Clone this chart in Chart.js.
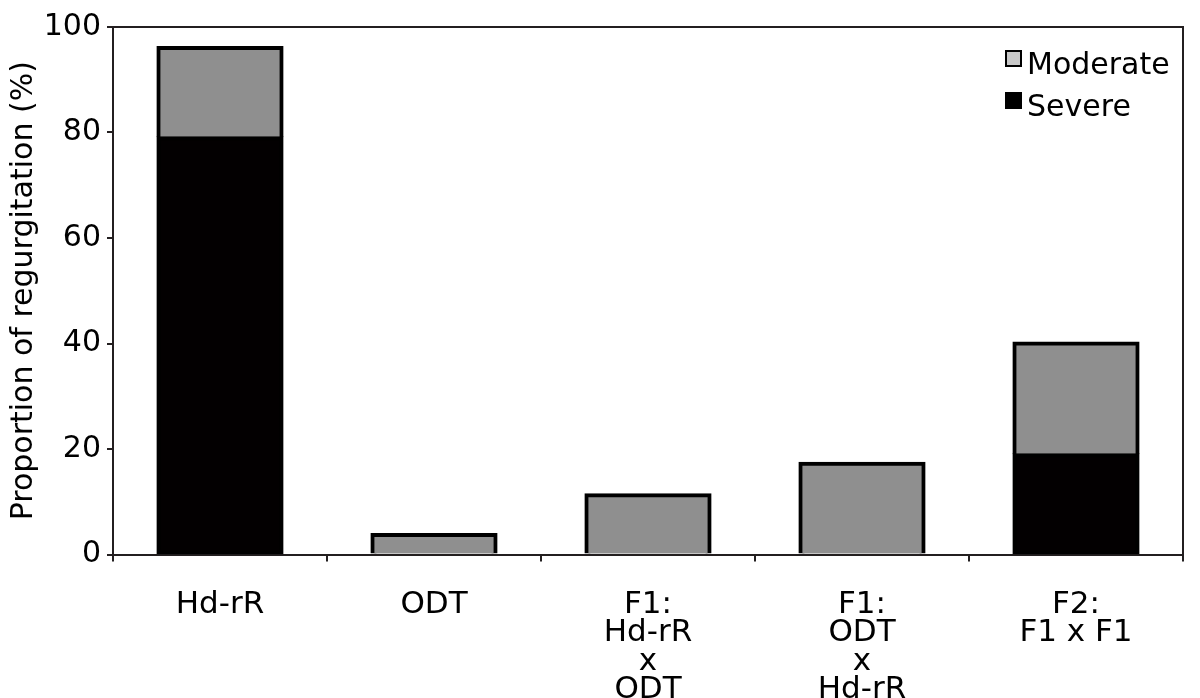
<!DOCTYPE html>
<html>
<head>
<meta charset="utf-8">
<script src="https://cdn.jsdelivr.net/npm/chart.js@4.4.1/dist/chart.umd.min.js"></script>
<style>
  html, body { margin: 0; padding: 0; background: #ffffff; }
  #wrap { width: 1200px; height: 698px; position: relative; }
</style>
</head>
<body>
<div id="wrap"><canvas id="c" width="1200" height="698"></canvas></div>
<script>
const categories = [
  ["Hd-rR"],
  ["ODT"],
  ["F1:", "Hd-rR", "x", "ODT"],
  ["F1:", "ODT", "x", "Hd-rR"],
  ["F2:", "F1 x F1"]
];
const severe   = [79.1, 0, 0, 0, 19.0];
const moderate = [17.1, 3.9, 11.4, 17.4, 21.2];
const yTicks = [0, 20, 40, 60, 80, 100];
const yTitle = "Proportion of regurgitation (%)";
const seriesNames = ["Severe", "Moderate"];

const AXIS = '#231f20';
const FONT = '"DejaVu Sans", "Liberation Sans", Arial, sans-serif';

const frameAndLegend = {
  id: 'frameAndLegend',
  afterDatasetsDraw(chart) {
    const { ctx, chartArea: a } = chart;
    ctx.save();
    ctx.strokeStyle = AXIS;
    ctx.lineWidth = 2;
    ctx.beginPath();
    ctx.moveTo(a.left, a.top);
    ctx.lineTo(a.right, a.top);
    ctx.lineTo(a.right, a.bottom);
    ctx.stroke();
    const items = [
      { label: chart.data.datasets[1].label, fill: '#c8c8c8', y: 58 },
      { label: chart.data.datasets[0].label, fill: '#000000', y: 100 }
    ];
    ctx.font = '30px ' + FONT;
    ctx.textBaseline = 'middle';
    ctx.textAlign = 'left';
    items.forEach(it => {
      ctx.fillStyle = it.fill;
      ctx.fillRect(1006, it.y - 7, 15, 15);
      ctx.strokeStyle = '#000';
      ctx.lineWidth = 2;
      ctx.strokeRect(1006, it.y - 7, 15, 15);
      ctx.fillStyle = '#000';
      ctx.fillText(it.label, 1027, it.y + 8);
    });
    ctx.restore();
  }
};

new Chart(document.getElementById('c'), {
  type: 'bar',
  data: {
    labels: categories,
    datasets: [
      {
        label: seriesNames[0],
        data: severe,
        backgroundColor: '#030001',
        borderColor: '#000000',
        borderWidth: 4,
        borderSkipped: false,
        inflateAmount: 1,
        barPercentage: 0.585,
        categoryPercentage: 1.0
      },
      {
        label: seriesNames[1],
        data: moderate,
        backgroundColor: '#8f8f8f',
        borderColor: '#000000',
        borderWidth: 4,
        borderSkipped: 'bottom',
        inflateAmount: 1,
        barPercentage: 0.585,
        categoryPercentage: 1.0
      }
    ]
  },
  options: {
    responsive: false,
    animation: false,
    devicePixelRatio: 1,
    layout: { padding: { top: 27, right: 17, left: 0, bottom: 0 } },
    plugins: {
      legend: { display: false },
      tooltip: { enabled: false }
    },
    scales: {
      x: {
        stacked: true,
        border: { color: AXIS, width: 2 },
        grid: { drawOnChartArea: false, drawTicks: true, tickLength: 7, color: AXIS, lineWidth: 2, offset: true },
        ticks: {
          color: '#000',
          font: { family: FONT, size: 31, lineHeight: 0.92 },
          padding: 29,
          maxRotation: 0,
          autoSkip: false
        },
        afterFit(s) { s.height = 143.5; }
      },
      y: {
        stacked: true,
        min: 0,
        max: 100,
        afterBuildTicks(s) { s.ticks = yTicks.map(v => ({ value: v })); },
        border: { color: AXIS, width: 2 },
        grid: { drawOnChartArea: false, drawTicks: true, tickLength: 6, color: AXIS, lineWidth: 2 },
        ticks: {
          color: '#000',
          font: { family: FONT, size: 30 },
          padding: 6
        },
        title: {
          display: true,
          text: yTitle,
          color: '#000',
          font: { family: FONT, size: 30 },
          padding: { top: 6, bottom: 0 }
        },
        afterFit(s) { s.width = 113; }
      }
    }
  },
  plugins: [frameAndLegend]
});
</script>
</body>
</html>
